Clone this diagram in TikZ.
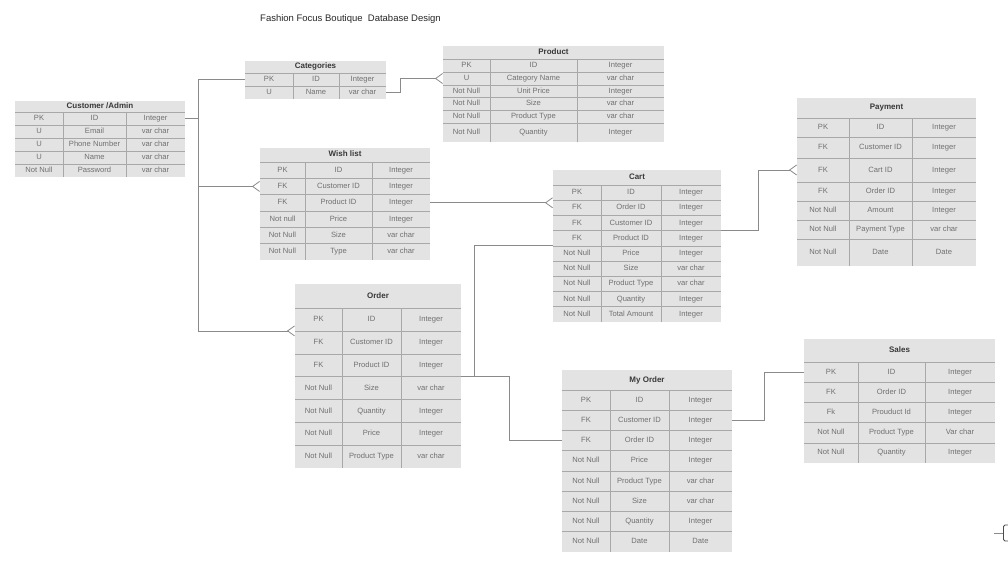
\documentclass[tikz,border=0pt]{standalone}
\usepackage{fontspec}
\setmainfont{Liberation Sans}
\usetikzlibrary{arrows.meta}

\definecolor{entfill}{HTML}{E3E3E3}
\definecolor{lineclr}{HTML}{A8A8A8}
\definecolor{celltext}{HTML}{707070}
\definecolor{headtext}{HTML}{383838}
\definecolor{connclr}{HTML}{8A8A8A}

\tikzset{
  entcell/.style={fill=entfill, inner sep=0pt, outer sep=0pt, anchor=north west,
    text=celltext, font=\fontsize{7.6}{9}\selectfont, text height=5.6pt, text depth=1.6pt},
  enthead/.style={entcell, text=headtext, font=\fontsize{8}{9}\selectfont\bfseries},
  rowline/.style={draw=lineclr, line width=0.6pt},
  conn/.style={draw=connclr, line width=0.8pt},
  crow/.style={-{Straight Barb[reversed, length=7pt, width=10pt]}},
  title/.style={anchor=west, inner sep=0pt, font=\fontsize{9.5}{11}\selectfont, text=black!85}
}

% #1 name, #2 x, #3 y, #4-#6 column widths, #7 header, #8 header height, #9 rows key/field/type/height
\newcommand{\erentity}[9]{%
  \pgfmathsetmacro\entw{#4+#5+#6}
  \node[enthead, minimum width=\entw, minimum height=#8] (#1-h) at (#2,#3) {#7};
  \pgfmathsetmacro\entfirst{#3+#8}
  \global\let\entrowy\entfirst
  \foreach \k/\f/\t/\h [count=\i] in {#9} {
    \node[entcell, minimum width=#4, minimum height=\h] (#1-\i-k) at (#2,\entrowy) {\k};
    \node[entcell, minimum width=#5, minimum height=\h] (#1-\i-f) at (#1-\i-k.north east) {\f};
    \node[entcell, minimum width=#6, minimum height=\h] (#1-\i-t) at (#1-\i-f.north east) {\t};
    \draw[rowline] (#1-\i-k.north west) -- (#1-\i-t.north east)
      (#1-\i-f.north west) -- (#1-\i-f.south west)
      (#1-\i-t.north west) -- (#1-\i-t.south west);
    \pgfmathsetmacro\entnext{\entrowy+\h}
    \global\let\entrowy\entnext
  }
}

\begin{document}
\begin{tikzpicture}[x=1pt, y=-1pt]
  \useasboundingbox (0,0) rectangle (1008,564);

  \node[title] (title) at (260,19) {Fashion Focus Boutique\ \ Database Design};

  \erentity{cust}{15}{101}{48}{63}{59}{Customer /Admin}{11}{
    PK/ID/Integer/13, U/Email/var char/13, U/Phone Number/var char/13,
    U/Name/var char/13, Not Null/Password/var char/13}

  \erentity{cat}{245}{61}{48}{46}{47}{Categories}{12}{
    PK/ID/Integer/13, U/Name/var char/13}

  \erentity{prod}{443}{46}{47}{87}{87}{Product}{13}{
    PK/ID/Integer/13, U/Category Name/var char/13, Not Null/Unit Price/Integer/12.5,
    Not Null/Size/var char/12.5, Not Null/Product Type/var char/13, Not Null/Quantity/Integer/19}

  \erentity{wish}{260}{148}{45}{67}{58}{Wish list}{14}{
    PK/ID/Integer/16.3, FK/Customer ID/Integer/16.3, FK/Product ID/Integer/16.3,
    Not null/Price/Integer/16.3, Not Null/Size/var char/16.3, Not Null/Type/var char/16.3}

  \erentity{cart}{553}{170}{48}{60}{60}{Cart}{15}{
    PK/ID/Integer/15.2, FK/Order ID/Integer/15.2, FK/Customer ID/Integer/15.2,
    FK/Product ID/Integer/15.2, Not Null/Price/Integer/15.2, Not Null/Size/var char/15.2,
    Not Null/Product Type/var char/15.2, Not Null/Quantity/Integer/15.2,
    Not Null/Total Amount/Integer/15.2}

  \erentity{pay}{797}{98}{52}{63}{64}{Payment}{20}{
    PK/ID/Integer/19, FK/Customer ID/Integer/21, FK/Cart ID/Integer/24,
    FK/Order ID/Integer/19, Not Null/Amount/Integer/19, Not Null/Payment Type/var char/19,
    Not Null/Date/Date/27}

  \erentity{order}{295}{284}{47}{59}{60}{Order}{24}{
    PK/ID/Integer/22.9, FK/Customer ID/Integer/22.9, FK/Product ID/Integer/22.9,
    Not Null/Size/var char/22.9, Not Null/Quantity/Integer/22.9, Not Null/Price/Integer/22.9,
    Not Null/Product Type/var char/22.9}

  \erentity{myord}{562}{370}{48}{59}{63}{My Order}{20}{
    PK/ID/Integer/20.25, FK/Customer ID/Integer/20.25, FK/Order ID/Integer/20.25,
    Not Null/Price/Integer/20.25, Not Null/Product Type/var char/20.25,
    Not Null/Size/var char/20.25, Not Null/Quantity/Integer/20.25, Not Null/Date/Date/20.25}

  \erentity{sales}{804}{339}{54}{67}{70}{Sales}{23}{
    PK/ID/Integer/20.2, FK/Order ID/Integer/20.2, Fk/Prouduct Id/Integer/20.2,
    Not Null/Product Type/Var char/20.2, Not Null/Quantity/Integer/20.2}

  % relations
  \draw[conn] (cust-1-t.east) -- ++(13,0) coordinate (spine);
  \draw[conn] (spine) |- (cat-1-k.west);
  \draw[conn, crow] (spine) |- (wish-2-k.west);
  \draw[conn, crow] (spine) |- (order-1-k.south west);
  \draw[conn, crow] (cat-2-t.east) -- ++(14,0) |- (prod-2-k.west);
  \draw[conn, crow] (wish-3-t.east) -- (wish-3-t.east -| cart-2-k.west);
  \draw[conn, crow] (cart-3-t.south east) -- ++(37,0) |- (pay-3-k.west);
  \draw[conn] (order-3-t.south east) -- ++(13,0) coordinate (ojoin) |- (cart-4-k.south west);
  \draw[conn] (ojoin) -- ++(35,0) |- (myord-3-k.west);
  \draw[conn] (myord-2-t.east) -- ++(32,0) |- (sales-1-k.west);

  \coordinate (edge) at (1003.5,533);
  \draw[conn] (edge) -- ++(-10,0);
  \draw[black!70, line width=0.8pt, rounded corners=1.5pt] (1009,525) -| (edge) |- (1009,541);
\end{tikzpicture}
\end{document}
